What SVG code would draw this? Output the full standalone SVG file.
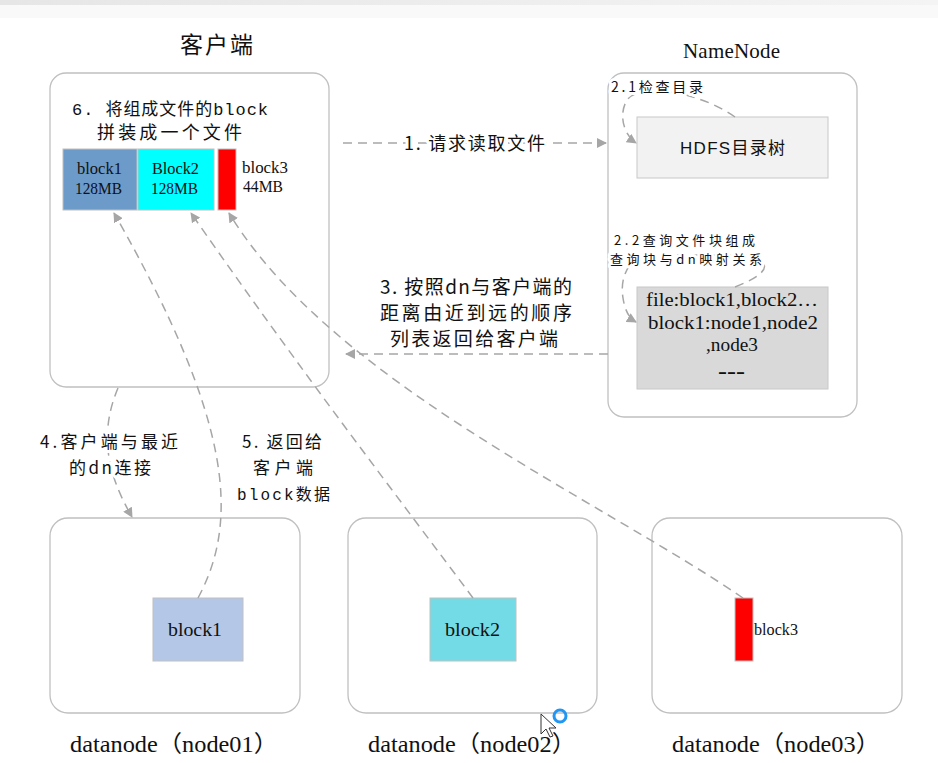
<svg xmlns="http://www.w3.org/2000/svg" width="938" height="763" viewBox="0 0 938 763">
<defs>
<linearGradient id="topbar" x1="0" y1="0" x2="1" y2="0">
<stop offset="0" stop-color="#e6e6e6"/><stop offset="1" stop-color="#f4f4f4"/>
</linearGradient>
<marker id="arr" viewBox="0 0 10 10" refX="9" refY="5" markerWidth="10" markerHeight="10" markerUnits="userSpaceOnUse" orient="auto">
<path d="M0,0 L10,5 L0,10 z" fill="#a6a6a6"/>
</marker>
</defs>
<style>
.box{fill:#fff;stroke:#c0c0c0;stroke-width:1.3}
.con{fill:none;stroke:#a6a6a6;stroke-width:1.5;stroke-dasharray:9 6}
.cn{font-family:"Noto Sans CJK SC","Liberation Sans",sans-serif;fill:#111}
.mono{font-family:"Liberation Mono","Noto Sans CJK SC",monospace;fill:#111}
.serif{font-family:"Liberation Serif","Noto Sans CJK SC",serif;fill:#111}
.halo{paint-order:stroke;stroke:#fff;stroke-width:6;stroke-linejoin:round}
</style>
<rect x="0" y="0" width="938" height="5" fill="url(#topbar)"/>
<rect x="0" y="5" width="938" height="13" fill="#f9f9f9"/>

<g id="client">
<text class="cn" x="180" y="53" font-size="23" textLength="73" lengthAdjust="spacing">客户端</text>
<rect class="box" x="50" y="73" width="279" height="314" rx="16"/>
<text class="mono" x="72" y="115" font-size="17" textLength="196" lengthAdjust="spacing">6. 将组成文件的block</text>
<text class="cn" x="97" y="139" font-size="18" textLength="145" lengthAdjust="spacing">拼装成一个文件</text>
<rect x="63" y="149" width="74" height="61" fill="#6d9bc9" stroke="#c0c0c0"/>
<text class="serif" x="77" y="174" font-size="17" textLength="45" lengthAdjust="spacingAndGlyphs">block1</text>
<text class="serif" x="75" y="194" font-size="17" textLength="47" lengthAdjust="spacingAndGlyphs">128MB</text>
<rect x="138" y="149" width="76" height="61" fill="#00ffff" stroke="#c0c0c0"/>
<text class="serif" x="152" y="174" font-size="17" textLength="47" lengthAdjust="spacingAndGlyphs">Block2</text>
<text class="serif" x="151" y="194" font-size="17" textLength="47" lengthAdjust="spacingAndGlyphs">128MB</text>
<rect x="218" y="149" width="18" height="61" fill="#ff0000" stroke="#c0c0c0"/>
<text class="serif" x="242" y="173" font-size="17" textLength="46" lengthAdjust="spacingAndGlyphs">block3</text>
<text class="serif" x="243" y="192" font-size="17" textLength="40" lengthAdjust="spacingAndGlyphs">44MB</text>
</g>

<g id="namenode">
<text class="serif" x="683" y="58" font-size="21" textLength="97" lengthAdjust="spacing">NameNode</text>
<rect class="box" x="608" y="73" width="249" height="344" rx="16"/>
</g>

<g id="hdfs">
<rect x="637" y="117" width="191" height="61" fill="#f2f2f2" stroke="#c8c8c8"/>
<text x="680" y="154" font-size="17" textLength="105" lengthAdjust="spacing" font-family="'Liberation Sans','Noto Sans CJK SC',sans-serif" fill="#111">HDFS目录树</text>
</g>

<g id="blockmap">
<rect x="637" y="287" width="191" height="102" fill="#d9d9d9" stroke="#c8c8c8"/>
<text class="serif" x="646" y="306" font-size="19" textLength="172" lengthAdjust="spacingAndGlyphs">file:block1,block2…</text>
<text class="serif" x="648" y="329" font-size="19" textLength="170" lengthAdjust="spacingAndGlyphs">block1:node1,node2</text>
<text class="serif" x="706" y="351" font-size="19" textLength="52" lengthAdjust="spacingAndGlyphs">,node3</text>
<text class="serif" x="718" y="378" font-size="20" font-weight="bold" textLength="27" lengthAdjust="spacingAndGlyphs">---</text>
</g>

<g id="datanode1">
<rect class="box" x="50" y="518" width="250" height="195" rx="18"/>
<rect x="153" y="598" width="90" height="63" fill="#b4c7e7" stroke="#c0c0c0"/>
<text class="serif" x="168" y="636" font-size="19" textLength="54" lengthAdjust="spacingAndGlyphs">block1</text>
<text class="serif" x="70" y="752" font-size="23" textLength="208" lengthAdjust="spacingAndGlyphs">datanode（node01）</text>
</g>

<g id="datanode2">
<rect class="box" x="348" y="518" width="249" height="195" rx="18"/>
<rect x="430" y="598" width="86" height="63" fill="#73dbe5" stroke="#c0c0c0"/>
<text class="serif" x="445" y="636" font-size="19" textLength="55" lengthAdjust="spacingAndGlyphs">block2</text>
<text class="serif" x="368" y="752" font-size="23" textLength="208" lengthAdjust="spacingAndGlyphs">datanode（node02）</text>
</g>

<g id="datanode3">
<rect class="box" x="652" y="518" width="250" height="195" rx="18"/>
<rect x="735" y="598" width="18" height="63" fill="#ff0000" stroke="#c0c0c0"/>
<text class="serif" x="754" y="635" font-size="16" textLength="44" lengthAdjust="spacingAndGlyphs">block3</text>
<text class="serif" x="672" y="752" font-size="23" textLength="208" lengthAdjust="spacingAndGlyphs">datanode（node03）</text>
</g>

<g id="connectors">
<path class="con" d="M343,143 L606,143" marker-end="url(#arr)"/>
<path class="con" d="M608,354 L346,354" marker-end="url(#arr)"/>
<path class="con" d="M735,117 C700,92 640,82 627,100 C618,115 624,135 636,143" marker-end="url(#arr)"/>
<path class="con" d="M735,287 C768,274 776,262 745,255 L650,255 C626,258 620,280 623,298 C625,311 629,318 636,322" marker-end="url(#arr)"/>
<path class="con" d="M118,388 C96,440 112,482 132,517" marker-end="url(#arr)"/>
<path class="con" d="M198,598 C240,520 232,420 114,213" marker-end="url(#arr)"/>
<path class="con" d="M473,598 C400,500 300,370 191,213" marker-end="url(#arr)"/>
<path class="con" d="M743,598 C600,500 330,380 229,213" marker-end="url(#arr)"/>
</g>

<g id="labels">
<text class="cn halo" x="404" y="150" font-size="18" textLength="141" lengthAdjust="spacing">1. 请求读取文件</text>
<text class="cn" x="380" y="294" font-size="19" textLength="192" lengthAdjust="spacing">3. 按照dn与客户端的</text>
<text class="cn" x="380" y="320" font-size="19" textLength="192" lengthAdjust="spacing">距离由近到远的顺序</text>
<text class="cn" x="390" y="346" font-size="19" textLength="168" lengthAdjust="spacing">列表返回给客户端</text>
<text class="cn halo" x="611" y="92" font-size="14" textLength="92" lengthAdjust="spacing">2.1检查目录</text>
<text class="cn halo" x="614" y="245" font-size="13" textLength="141" lengthAdjust="spacing">2.2查询文件块组成</text>
<text class="cn halo" x="610" y="264" font-size="13" textLength="152" lengthAdjust="spacing">查询块与dn映射关系</text>
<text class="cn halo" x="40" y="448" font-size="17" textLength="138" lengthAdjust="spacing">4.客户端与最近</text>
<text class="cn halo" x="69" y="474" font-size="17" textLength="82" lengthAdjust="spacing">的dn连接</text>
<text class="cn halo" x="242" y="448" font-size="17" textLength="80" lengthAdjust="spacing">5. 返回给</text>
<text class="cn halo" x="253" y="474" font-size="17" textLength="60" lengthAdjust="spacing">客户端</text>
<text class="mono halo" x="237" y="500" font-size="16" textLength="93" lengthAdjust="spacing">block数据</text>
</g>

<g id="cursor">
<path d="M541,714 L541,734 L546,729 L550,737 L553,736 L549,728 L556,728 Z" fill="#fff" stroke="#333" stroke-width="1"/>
<circle cx="560" cy="716" r="6" fill="none" stroke="#2196f3" stroke-width="3"/>
</g>
</svg>
